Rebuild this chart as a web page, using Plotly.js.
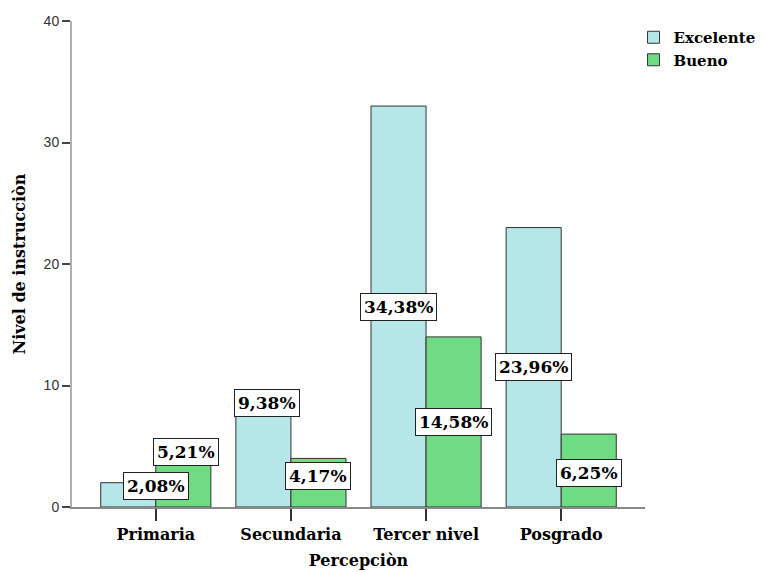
<!DOCTYPE html>
<html>
<head>
<meta charset="utf-8">
<script src="https://cdn.plot.ly/plotly-3.0.1.min.js"></script>
<style>html,body{margin:0;padding:0;background:#fff;}#chart{width:764px;height:572px;}</style>
</head>
<body>
<div id="chart"></div>
<script>
// Data
const categories = ["Primaria", "Secundaria", "Tercer nivel", "Posgrado"];
const excelente = [2, 9, 33, 23];
const bueno = [5, 4, 14, 6];
const excelenteLabels = ["2,08%", "9,38%", "34,38%", "23,96%"];
const buenoLabels = ["5,21%", "4,17%", "14,58%", "6,25%"];
const yTicks = [0, 10, 20, 30, 40];

// Label placement adjustments (pixels) to avoid overlaps, like the source
const excShift = [[28, 9], [4, 49], [0, 0], [0, 0]];
const bueShift = [[3, 25], [0, 7], [0, 0], [0, -2]];

const serif = "DejaVu Serif, serif";
const bargap = 0.185;
const half = (1 - bargap) / 4;

const traces = [
  {type: "bar", name: "Excelente", x: categories, y: excelente,
   marker: {color: "#b5e6e8", line: {color: "#333333", width: 1}}, hoverinfo: "none"},
  {type: "bar", name: "Bueno", x: categories, y: bueno,
   marker: {color: "#6fdc84", line: {color: "#333333", width: 1}}, hoverinfo: "none"}
];

const annotations = [];
function addLabels(vals, labels, shifts, side) {
  vals.forEach((v, i) => {
    annotations.push({
      x: i + side * half, y: v / 2, xref: "x", yref: "y",
      text: labels[i], showarrow: false,
      xshift: shifts[i][0], yshift: shifts[i][1],
      font: {family: serif, size: 17, color: "#000", weight: "bold"},
      bgcolor: "#ffffff", bordercolor: "#222", borderwidth: 1, borderpad: 3
    });
  });
}
addLabels(excelente, excelenteLabels, excShift, -1);
addLabels(bueno, buenoLabels, bueShift, 1);

const layout = {
  width: 764, height: 572,
  margin: {l: 72, r: 119, t: 21, b: 65, autoexpand: false},
  paper_bgcolor: "#fff", plot_bgcolor: "#fff",
  barmode: "group", bargap: bargap, bargroupgap: 0,
  showlegend: true,
  legend: {x: 0.98, xanchor: "left", y: 1.0, yanchor: "top",
           font: {family: serif, size: 15, color: "#000", weight: "bold"},
           tracegroupgap: 0, itemwidth: 30, bgcolor: "rgba(0,0,0,0)"},
  xaxis: {
    type: "category", range: [-0.62, 3.62],
    showline: true, linecolor: "#888", linewidth: 2,
    ticks: "outside", ticklen: 12, tickwidth: 2, tickcolor: "#333",
    tickfont: {family: serif, size: 16, color: "#000", weight: "bold"},
    showgrid: false, zeroline: false,
    title: {text: "Percepciòn", font: {family: serif, size: 16, color: "#000", weight: "bold"}, standoff: 12}
  },
  yaxis: {
    range: [0, 40], tickvals: yTicks, ticktext: yTicks.map(String),
    showline: true, linecolor: "#b0b0b0", linewidth: 2,
    ticks: "outside", ticklen: 8, tickwidth: 2, tickcolor: "#444",
    tickfont: {family: "Liberation Sans, Arial, sans-serif", size: 14, color: "#333"},
    showgrid: false, zeroline: false,
    title: {text: "Nivel de instrucciòn", font: {family: serif, size: 16, color: "#000", weight: "bold"}, standoff: 14}
  },
  annotations: annotations
};

Plotly.newPlot("chart", traces, layout, {displayModeBar: false, staticPlot: true});
</script>
</body>
</html>
